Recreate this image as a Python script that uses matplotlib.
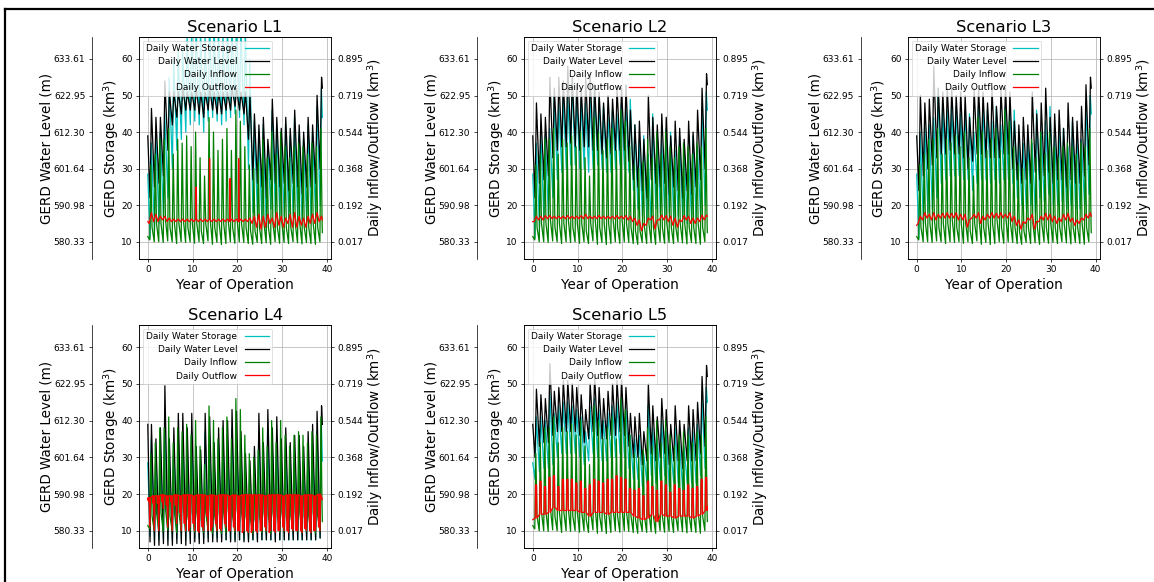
import numpy as np
import matplotlib
matplotlib.use('Agg')
import matplotlib.pyplot as plt
from matplotlib.lines import Line2D

n_years = 39
x_end = 39.0

# tick values shared by the three y axes
stor_ticks = [10, 20, 30, 40, 50, 60]
level_ticks = [580.33, 590.98, 601.64, 612.30, 622.95, 633.61]
flow_ticks = [0.017, 0.192, 0.368, 0.544, 0.719, 0.895]
year_ticks = [0, 10, 20, 30, 40]

# daily inflow (km3), same hydrology in every scenario
inflow_start, inflow_end = 0.042, 0.061
inflow_lo = [0.026, 0.017, 0.017, 0.014, 0.021, 0.017, 0.009, 0.017, 0.014, 0.017,
             0.010, 0.017, 0.009, 0.021, 0.005, 0.014, 0.004, 0.009, 0.017, 0.010,
             0.017, 0.014, 0.009, 0.005, 0.014, 0.009, 0.012, 0.005, 0.017, 0.010,
             0.014, 0.009, 0.017, 0.012, 0.007, 0.014, 0.009, 0.005, 0.017]
inflow_hi = [0.386, 0.438, 0.509, 0.509, 0.561, 0.438, 0.509, 0.491, 0.526, 0.474,
             0.544, 0.421, 0.333, 0.614, 0.544, 0.456, 0.509, 0.561, 0.456, 0.649,
             0.596, 0.474, 0.386, 0.368, 0.403, 0.509, 0.421, 0.544, 0.438, 0.544,
             0.474, 0.421, 0.474, 0.491, 0.474, 0.438, 0.491, 0.474, 0.561]
inflow_rec = [0.087, 0.105, 0.105, 0.122, 0.087, 0.105, 0.105, 0.122, 0.087, 0.105,
              0.105, 0.070, 0.105, 0.122, 0.087, 0.105, 0.105, 0.122, 0.087, 0.122,
              0.105, 0.087, 0.070, 0.070, 0.087, 0.105, 0.087, 0.105, 0.087, 0.105,
              0.087, 0.087, 0.105, 0.105, 0.087, 0.087, 0.105, 0.087, 0.105]

# ---------------- Scenario L1 ----------------
l1_stor_lo = [11, 13, 15, 17, 22, 30, 35, 38, 40, 42, 43, 42, 40, 43, 44, 43, 42, 43, 44, 45,
              44, 42, 30, 18, 17, 16, 13, 19, 18, 17, 17, 16, 17, 16, 15, 16, 16, 17, 20]
l1_stor_hi = [37, 40, 40, 45, 55, 60, 62, 63, 66, 68, 70, 68, 66, 70, 70, 68, 67, 68, 70, 72,
              70, 68, 60, 43, 40, 42, 36, 46, 42, 39, 42, 39, 44, 40, 38, 42, 40, 47, 52]
l1_lev_lo = [593.1, 596.3, 597.4, 599.5, 607.0, 614.4, 616.6, 617.6, 618.7, 618.7,
             618.7, 617.6, 616.6, 618.7, 618.7, 617.6, 617.6, 618.7, 618.7, 619.8,
             618.7, 617.6, 610.2, 598.4, 597.4, 596.3, 593.1, 598.4, 597.4, 596.3,
             597.4, 595.2, 597.4, 596.3, 594.2, 596.3, 596.3, 597.4, 601.6]
l1_lev_hi = [619.2, 616.6, 616.6, 627.2, 624.0, 624.0, 624.0, 625.1, 624.0, 624.0,
             625.1, 624.0, 624.0, 625.1, 624.0, 624.0, 624.0, 624.0, 625.1, 625.1,
             624.0, 624.0, 623.0, 617.6, 614.4, 616.6, 610.2, 621.9, 616.6, 613.4,
             616.6, 613.4, 618.7, 614.4, 612.3, 616.6, 614.4, 623.0, 628.3]
l1_out_lo = [0.105, 0.114, 0.114, 0.122, 0.114, 0.114, 0.114, 0.114, 0.114, 0.114,
             0.114, 0.114, 0.114, 0.114, 0.114, 0.114, 0.114, 0.114, 0.114, 0.114,
             0.114, 0.114, 0.114, 0.105, 0.087, 0.078, 0.087, 0.105, 0.087, 0.096,
             0.087, 0.105, 0.087, 0.087, 0.096, 0.087, 0.105, 0.105, 0.114]
l1_out_hi = [0.157, 0.149, 0.140, 0.140, 0.131, 0.126, 0.126, 0.126, 0.126, 0.126,
             0.126, 0.126, 0.126, 0.126, 0.126, 0.126, 0.126, 0.126, 0.126, 0.126,
             0.126, 0.126, 0.131, 0.140, 0.149, 0.140, 0.149, 0.131, 0.157, 0.140,
             0.131, 0.149, 0.157, 0.140, 0.131, 0.140, 0.149, 0.157, 0.140]
l1_spike_x = [10.8, 13.8, 18.4, 20.3]
l1_spike_v = [0.280, 0.417, 0.321, 0.417]

# ---------------- Scenario L2 ----------------
l2_stor_lo = [11, 14, 16, 17, 22, 27, 29, 30, 31, 31, 30, 30, 29, 30, 31, 30, 29, 29, 30, 31,
              30, 29, 24, 19, 17, 16, 14, 19, 18, 17, 18, 16, 17, 16, 15, 16, 16, 17, 20]
l2_stor_hi = [37, 40, 39, 41, 50, 48, 50, 50, 54, 51, 49, 48, 50, 52, 49, 47, 44, 46, 45, 48,
              48, 49, 42, 38, 39, 34, 45, 40, 38, 41, 40, 35, 39, 37, 34, 39, 36, 47, 51]
l2_lev_lo = [593.1, 597.4, 598.4, 599.5, 604.8, 607.0, 608.0, 608.0, 609.1, 608.0,
             607.0, 608.0, 608.0, 607.0, 607.0, 605.9, 604.8, 605.9, 607.0, 607.0,
             607.0, 603.8, 598.4, 596.3, 595.2, 593.1, 598.4, 597.4, 596.3, 597.4,
             594.2, 596.3, 595.2, 593.1, 595.2, 594.2, 596.3, 598.4, 601.6]
l2_lev_hi = [620.8, 617.6, 616.6, 628.3, 625.1, 628.3, 627.2, 631.5, 628.3, 626.1,
             625.1, 628.3, 629.3, 626.1, 624.0, 620.8, 623.0, 621.9, 625.1, 625.1,
             626.1, 618.7, 614.4, 615.5, 610.2, 623.0, 616.6, 614.4, 617.6, 616.6,
             611.2, 615.5, 613.4, 610.2, 615.5, 612.3, 618.7, 625.1, 629.3]
l2_out_lo = [0.114, 0.122, 0.122, 0.128, 0.128, 0.128, 0.128, 0.128, 0.128, 0.128,
             0.128, 0.128, 0.128, 0.128, 0.128, 0.128, 0.128, 0.128, 0.128, 0.128,
             0.128, 0.122, 0.114, 0.096, 0.070, 0.096, 0.122, 0.078, 0.122, 0.122,
             0.114, 0.096, 0.087, 0.114, 0.122, 0.105, 0.105, 0.114, 0.122]
l2_out_hi = [0.140, 0.140, 0.143, 0.143, 0.140, 0.140, 0.140, 0.143, 0.140, 0.140,
             0.143, 0.149, 0.140, 0.140, 0.143, 0.140, 0.140, 0.140, 0.143, 0.140,
             0.143, 0.140, 0.131, 0.122, 0.105, 0.131, 0.140, 0.122, 0.145, 0.143,
             0.140, 0.131, 0.122, 0.143, 0.140, 0.131, 0.131, 0.145, 0.145]

# ---------------- Scenario L3 ----------------
l3_stor_lo = [11, 15, 18, 19, 22, 26, 27, 28, 28, 28, 27, 27, 24, 26, 27, 27, 26, 27, 26, 27,
              27, 26, 22, 20, 19, 20, 18, 22, 21, 23, 20, 20, 21, 19, 20, 19, 19, 20, 23]
l3_stor_hi = [40, 43, 42, 44, 52, 47, 46, 47, 47, 45, 46, 45, 40, 47, 47, 46, 43, 47, 42, 47,
              47, 46, 38, 37, 39, 37, 46, 40, 43, 47, 39, 40, 41, 36, 43, 39, 38, 48, 50]
l3_lev_lo = [595.2, 599.5, 601.6, 602.7, 604.8, 605.9, 605.9, 607.0, 605.9, 605.9,
             604.8, 601.6, 603.8, 605.9, 605.9, 604.8, 604.8, 604.8, 604.8, 605.9,
             605.9, 601.6, 598.4, 597.4, 598.4, 597.4, 600.6, 598.4, 599.5, 600.6,
             597.4, 598.4, 598.4, 596.3, 598.4, 597.4, 597.4, 599.5, 602.7]
l3_lev_hi = [623.0, 620.8, 621.9, 631.5, 625.1, 624.0, 625.1, 625.1, 623.0, 624.0,
             623.0, 616.6, 625.1, 625.1, 624.0, 620.8, 625.1, 619.8, 625.1, 625.1,
             624.0, 615.5, 614.4, 616.6, 614.4, 624.0, 617.6, 620.8, 625.1, 616.6,
             617.6, 618.7, 613.4, 620.8, 616.6, 615.5, 619.8, 626.1, 628.3]
l3_out_lo = [0.105, 0.122, 0.131, 0.122, 0.122, 0.131, 0.131, 0.131, 0.131, 0.122,
             0.122, 0.087, 0.131, 0.131, 0.105, 0.122, 0.131, 0.131, 0.131, 0.131,
             0.131, 0.114, 0.096, 0.078, 0.105, 0.122, 0.078, 0.114, 0.122, 0.122,
             0.114, 0.105, 0.114, 0.122, 0.114, 0.096, 0.105, 0.122, 0.131]
l3_out_hi = [0.140, 0.157, 0.149, 0.157, 0.149, 0.154, 0.157, 0.154, 0.157, 0.149,
             0.149, 0.122, 0.149, 0.157, 0.140, 0.149, 0.157, 0.154, 0.157, 0.149,
             0.157, 0.140, 0.122, 0.114, 0.131, 0.149, 0.114, 0.140, 0.154, 0.149,
             0.140, 0.131, 0.149, 0.154, 0.131, 0.122, 0.131, 0.149, 0.157]

# ---------------- Scenario L4 ----------------
l4_stor_lo = [8.5, 7.5, 7.5, 7.8, 7.5, 7.5, 7.8, 7.8, 7.5, 7.8, 8, 7.8, 7.8, 8, 8, 8, 8, 7.5, 7.5, 7.5,
              7.5, 7.5, 7.5, 7.5, 7.5, 7.5, 7.5, 7.5, 7.5, 7.5, 7.5, 7.5, 7.5, 7.5, 7.5, 7.5, 7.5, 7.5, 8]
l4_stor_hi = [35, 31, 34, 41, 31, 34, 37, 37, 34, 37, 29, 28, 37, 36, 30, 34, 35, 35, 38, 37,
              32, 27, 25, 29, 37, 30, 38, 34, 36, 31, 34, 30, 32, 32, 29, 33, 34, 37, 39]
l4_lev_lo = [577.1, 576.1, 576.1, 576.6, 576.1, 576.1, 576.6, 576.6, 576.1, 576.6,
             577.1, 576.6, 576.6, 577.1, 577.1, 577.1, 577.1, 577.7, 577.1, 577.1,
             577.7, 577.1, 577.1, 577.7, 577.1, 577.7, 577.7, 577.7, 577.1, 577.7,
             577.7, 577.7, 577.7, 577.7, 577.7, 577.7, 577.7, 577.7, 578.2]
l4_lev_hi = [611.2, 607.0, 610.2, 622.4, 607.0, 610.2, 614.4, 614.4, 610.2, 614.4,
             604.8, 603.8, 614.4, 613.4, 605.9, 610.2, 612.3, 612.3, 615.5, 615.0,
             609.1, 602.7, 600.6, 604.8, 614.4, 605.9, 615.5, 610.2, 613.4, 607.0,
             610.2, 605.9, 608.0, 608.0, 604.8, 609.1, 611.2, 615.0, 616.6]
l4_out_hi = [0.175, 0.184, 0.184, 0.189, 0.184, 0.184, 0.189, 0.184, 0.189, 0.189,
             0.184, 0.189, 0.189, 0.184, 0.189, 0.184, 0.189, 0.189, 0.184, 0.189,
             0.184, 0.189, 0.189, 0.189, 0.189, 0.189, 0.184, 0.189, 0.189, 0.189,
             0.184, 0.189, 0.189, 0.189, 0.184, 0.189, 0.189, 0.184, 0.192]
l4_out_dip1 = [0.157, 0.149, 0.149, 0.157, 0.140, 0.157, 0.140, 0.105, 0.052, 0.017,
               0.052, 0.017, 0.035, 0.087, 0.017, 0.052, 0.026, 0.052, 0.017, 0.035,
               0.017, 0.008, 0.017, 0.008, 0.017, 0.017, 0.035, 0.008, 0.017, 0.017,
               0.035, 0.017, 0.026, 0.017, 0.017, 0.026, 0.017, 0.017, 0.035]
l4_out_dip2 = [0.035, 0.017, 0.017, 0.122, 0.035, 0.017, 0.052, 0.017, 0.017, 0.035,
               0.017, 0.008, 0.017, 0.017, 0.035, 0.017, 0.017, 0.035, 0.017, 0.017,
               0.017, 0.017, 0.008, 0.017, 0.008, 0.017, 0.017, 0.017, 0.008, 0.017,
               0.017, 0.008, 0.017, 0.017, 0.008, 0.017, 0.008, 0.017, 0.017]

# ---------------- Scenario L5 ----------------
l5_stor_lo = [24, 26, 27, 27, 28, 30, 31, 31, 31, 31, 30, 28, 29, 31, 30, 29, 29, 30, 30, 31,
              30, 27, 24, 24, 22, 23, 25, 23, 24, 25, 22, 23, 23, 21, 23, 23, 23, 25, 27]
l5_stor_hi = [41, 41, 40, 48, 42, 44, 45, 45, 44, 43, 41, 37, 44, 46, 43, 40, 42, 44, 45, 46,
              44, 36, 35, 36, 31, 44, 38, 35, 40, 37, 33, 38, 34, 33, 38, 37, 39, 46, 49]
l5_lev_lo = [601.6, 604.8, 605.9, 605.9, 608.0, 609.1, 609.1, 609.1, 609.1, 609.1,
             608.0, 605.9, 607.0, 609.1, 608.0, 607.0, 607.0, 608.0, 608.0, 609.1,
             608.0, 604.8, 601.6, 601.6, 599.5, 600.6, 602.7, 600.6, 601.6, 602.7,
             599.5, 600.6, 600.6, 598.4, 600.6, 600.6, 600.6, 602.7, 604.8]
l5_lev_hi = [621.4, 619.8, 618.7, 628.8, 620.8, 621.9, 624.0, 624.0, 623.0, 621.9,
             619.8, 615.5, 623.0, 625.1, 621.9, 618.7, 620.8, 623.0, 624.0, 624.0,
             621.9, 614.4, 613.4, 614.4, 609.1, 623.0, 616.6, 613.4, 618.7, 615.5,
             611.2, 616.6, 612.3, 611.2, 616.6, 615.5, 617.6, 625.1, 628.3]
l5_out_lo = [0.078, 0.096, 0.096, 0.105, 0.131, 0.114, 0.114, 0.114, 0.114, 0.114,
             0.105, 0.105, 0.087, 0.105, 0.105, 0.105, 0.096, 0.105, 0.105, 0.105,
             0.105, 0.105, 0.087, 0.078, 0.070, 0.078, 0.096, 0.061, 0.096, 0.087,
             0.087, 0.078, 0.087, 0.087, 0.087, 0.078, 0.087, 0.096, 0.114]
l5_out_hi = [0.236, 0.254, 0.228, 0.272, 0.280, 0.228, 0.263, 0.263, 0.263, 0.245,
             0.254, 0.219, 0.236, 0.263, 0.254, 0.245, 0.263, 0.263, 0.280, 0.272,
             0.263, 0.219, 0.210, 0.219, 0.184, 0.254, 0.228, 0.210, 0.254, 0.236,
             0.201, 0.236, 0.219, 0.210, 0.236, 0.219, 0.228, 0.263, 0.272]

# start / end values of each scenario: storage, level, outflow
stor_start = 28.5
lev_start = 611.2
stor_end = {'L1': 44, 'L2': 46, 'L3': 45, 'L4': 29, 'L5': 45}
lev_end = {'L1': 625.1, 'L2': 626.1, 'L3': 625.1, 'L4': 611.2, 'L5': 625.1}
out_start = {'L1': 0.114, 'L2': 0.114, 'L3': 0.096, 'L4': 0.166, 'L5': 0.070}
out_end = {'L1': 0.122, 'L2': 0.140, 'L3': 0.140, 'L4': 0.166, 'L5': 0.131}


def build(start, phases, end):
    # join yearly points (phase within the year, value list) into one line
    xs, ys = [0.0], [start]
    for i in range(n_years):
        for ph, vals in phases:
            xs.append(i + ph)
            ys.append(vals[i])
    xs.append(x_end)
    ys.append(end)
    return np.array(xs), np.array(ys)


scen = {
    'L1': dict(stor=[(0.5, l1_stor_lo), (0.78, l1_stor_hi)],
               lev=[(0.5, l1_lev_lo), (0.82, l1_lev_hi)],
               out=[(0.3, l1_out_lo), (0.8, l1_out_hi)]),
    'L2': dict(stor=[(0.5, l2_stor_lo), (0.78, l2_stor_hi)],
               lev=[(0.5, l2_lev_lo), (0.82, l2_lev_hi)],
               out=[(0.3, l2_out_lo), (0.8, l2_out_hi)]),
    'L3': dict(stor=[(0.5, l3_stor_lo), (0.78, l3_stor_hi)],
               lev=[(0.5, l3_lev_lo), (0.82, l3_lev_hi)],
               out=[(0.3, l3_out_lo), (0.8, l3_out_hi)]),
    'L4': dict(stor=[(0.5, l4_stor_lo), (0.78, l4_stor_hi)],
               lev=[(0.5, l4_lev_lo), (0.82, l4_lev_hi)],
               out=[(0.05, l4_out_hi), (0.15, l4_out_dip1), (0.3, l4_out_hi),
                    (0.45, l4_out_dip2), (0.6, l4_out_hi)]),
    'L5': dict(stor=[(0.5, l5_stor_lo), (0.78, l5_stor_hi)],
               lev=[(0.5, l5_lev_lo), (0.82, l5_lev_hi)],
               out=[(0.55, l5_out_lo), (0.62, l5_out_hi), (0.85, l5_out_hi), (0.92, l5_out_lo)]),
}

# axes boxes in figure fraction
positions = {
    'L1': [0.1205, 0.555, 0.1664, 0.3814],
    'L2': [0.4541, 0.555, 0.1664, 0.3814],
    'L3': [0.7868, 0.555, 0.1664, 0.3814],
    'L4': [0.1205, 0.0584, 0.1664, 0.383],
    'L5': [0.4541, 0.0584, 0.1664, 0.383],
}

stor_lim = (5.3, 66.0)
x_lim = (-1.95, 40.95)


def map_lim(ticks):
    slope = (ticks[-1] - ticks[0]) / (stor_ticks[-1] - stor_ticks[0])
    return (ticks[0] + (stor_lim[0] - stor_ticks[0]) * slope,
            ticks[0] + (stor_lim[1] - stor_ticks[0]) * slope)


# the original was drawn bigger and shrunk, so everything is scaled down
sc = 0.65
tick_fs = 10 * sc
lab_fs = 15 * sc
lw = 1.4 * sc
plt.rcParams['axes.linewidth'] = 0.8 * sc
plt.rcParams['xtick.major.size'] = 3.5 * sc
plt.rcParams['ytick.major.size'] = 3.5 * sc
plt.rcParams['xtick.major.width'] = 0.8 * sc
plt.rcParams['ytick.major.width'] = 0.8 * sc
plt.rcParams['xtick.major.pad'] = 3.5 * sc
plt.rcParams['ytick.major.pad'] = 3.5 * sc

fig = plt.figure(figsize=(11.54, 5.82), dpi=100)

for name in ['L1', 'L2', 'L3', 'L4', 'L5']:
    s = scen[name]
    ax = fig.add_axes(positions[name])
    lv = ax.twinx()
    fl = ax.twinx()

    lv.spines['left'].set_position(('axes', -0.247))
    lv.spines['left'].set_visible(True)
    lv.spines['right'].set_visible(False)
    lv.yaxis.set_label_position('left')
    lv.yaxis.set_ticks_position('left')

    xs, ys = build(stor_start, s['stor'], stor_end[name])
    p1, = ax.plot(xs, ys, color='c', lw=lw, label='Daily Water Storage')
    xs, ys = build(lev_start, s['lev'], lev_end[name])
    p2, = lv.plot(xs, ys, color='k', lw=lw, label='Daily Water Level')
    xs, ys = build(inflow_start, [(0.45, inflow_lo), (0.68, inflow_hi), (0.95, inflow_rec)], inflow_end)
    p3, = fl.plot(xs, ys, color='g', lw=lw, label='Daily Inflow')
    xo, yo = build(out_start[name], s['out'], out_end[name])
    if name == 'L1':
        base = np.interp(l1_spike_x, xo, yo)
        xo = np.concatenate([xo, np.array(l1_spike_x) - 0.04, l1_spike_x, np.array(l1_spike_x) + 0.04])
        yo = np.concatenate([yo, base, l1_spike_v, base])
        order = np.argsort(xo, kind='stable')
        xo, yo = xo[order], yo[order]
    p4, = fl.plot(xo, yo, color='r', lw=lw, label='Daily Outflow')

    ax.set_xlim(*x_lim)
    ax.set_ylim(*stor_lim)
    lv.set_ylim(*map_lim(level_ticks))
    fl.set_ylim(*map_lim(flow_ticks))

    ax.set_xticks(year_ticks)
    ax.set_yticks(stor_ticks)
    lv.set_yticks(level_ticks)
    lv.set_yticklabels(['%.2f' % v for v in level_ticks])
    fl.set_yticks(flow_ticks)
    fl.set_yticklabels(['%.3f' % v for v in flow_ticks])
    for a in (ax, lv, fl):
        a.tick_params(labelsize=tick_fs)
    ax.grid(True, color='#b0b0b0', lw=0.8 * sc)

    ax.set_xlabel('Year of Operation', fontsize=lab_fs, labelpad=4 * sc)
    ax.set_ylabel('GERD Storage (km$^3$)', fontsize=lab_fs, labelpad=0.5)
    lv.set_ylabel('GERD Water Level (m)', fontsize=lab_fs, labelpad=0)
    fl.set_ylabel('Daily Inflow/Outflow (km$^3$)', fontsize=lab_fs, labelpad=1.5)
    ax.set_title('Scenario ' + name, fontsize=18 * sc, pad=6 * sc)

    leg = fl.legend([p1, p2, p3, p4], [p.get_label() for p in (p1, p2, p3, p4)],
                    loc='upper left', fontsize=10 * sc, markerfirst=False, handlelength=2.7,
                    labelspacing=0.45, borderaxespad=0.4)
    leg.get_frame().set_linewidth(0.8 * sc)

# frame around the figure (left and top edges only, as cropped)
fig.add_artist(Line2D([5 / 1154, 5 / 1154], [0, 1 - 9 / 582], transform=fig.transFigure,
                      color='k', lw=1.6))
fig.add_artist(Line2D([5 / 1154, 1], [1 - 9 / 582, 1 - 9 / 582], transform=fig.transFigure,
                      color='k', lw=1.6))

fig.savefig('out.png', dpi=100)
